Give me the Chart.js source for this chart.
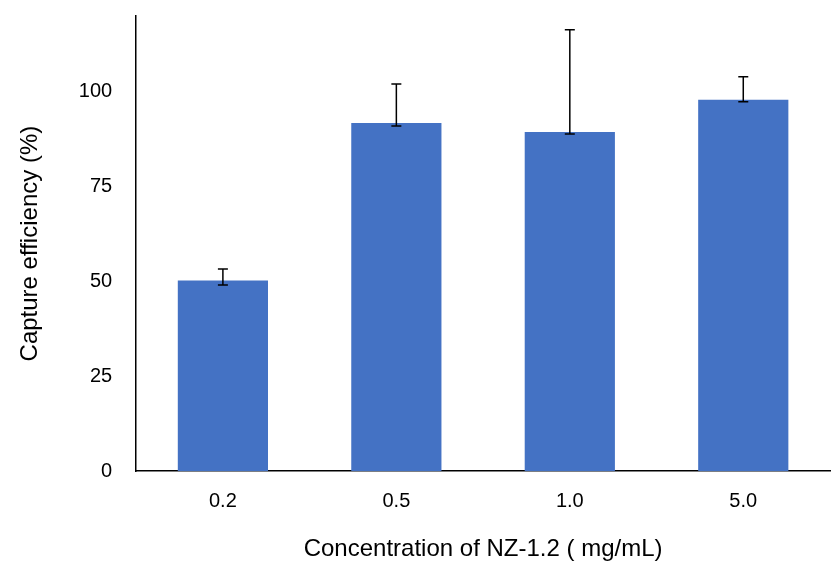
<!DOCTYPE html>
<html><head><meta charset="utf-8">
<script src="https://cdn.jsdelivr.net/npm/chart.js@4"></script>
<style>body{margin:0;background:#fff;overflow:hidden}#w{width:836px;height:584px;margin-top:-12px}</style></head>
<body><div id="w"><canvas id="c"></canvas></div>
<script>
const categories=["0.2","0.5","1.0","5.0"];
const values=[50.3,91.8,89.4,97.9];
const errHigh=[53.3,102.1,116.4,104.0];
const errLow=[49.1,91.0,88.9,97.4];
const errPlugin={id:'err',afterDatasetsDraw(ch){const ctx=ch.ctx,y=ch.scales.y,m=ch.getDatasetMeta(0);ctx.save();ctx.strokeStyle='#000';ctx.lineWidth=1.5;
m.data.forEach((b,i)=>{const x=b.x,h=y.getPixelForValue(errHigh[i]),l=y.getPixelForValue(errLow[i]);ctx.beginPath();ctx.moveTo(x,h);ctx.lineTo(x,l);ctx.moveTo(x-5,h);ctx.lineTo(x+5,h);ctx.moveTo(x-5,l);ctx.lineTo(x+5,l);ctx.stroke();});ctx.restore();}};
new Chart(document.getElementById('c'),{type:'bar',data:{labels:categories,datasets:[{data:values,backgroundColor:'#4472C4',categoryPercentage:1,barPercentage:0.52}]},
options:{responsive:true,maintainAspectRatio:false,animation:false,layout:{padding:{top:0,right:6,left:12,bottom:4}},
plugins:{legend:{display:false},tooltip:{enabled:false}},
scales:{x:{grid:{display:false},border:{color:'#000',width:1.5},ticks:{color:'#000',font:{family:'Liberation Sans',size:20},padding:10},
title:{display:true,text:'Concentration of NZ-1.2 ( mg/mL)',color:'#000',font:{family:'Liberation Sans',size:24},padding:{top:12}}},
y:{min:0,max:120,grid:{display:false},border:{color:'#000',width:1.5},ticks:{stepSize:25,color:'#000',font:{family:'Liberation Sans',size:20},padding:16,callback:v=>v%25===0&&v<=100?v:''},
title:{display:true,text:'Capture efficiency (%)',color:'#000',font:{family:'Liberation Sans',size:24},padding:{bottom:18}}}}},
plugins:[errPlugin]});
</script></body></html>
